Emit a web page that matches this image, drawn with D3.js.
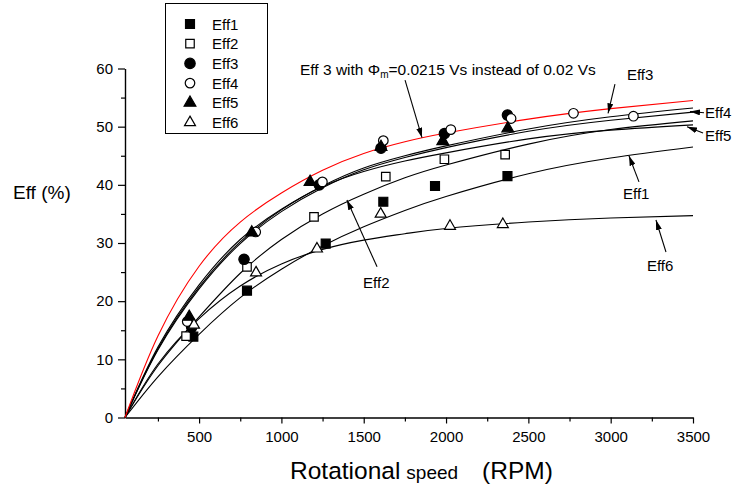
<!DOCTYPE html>
<html>
<head>
<meta charset="utf-8">
<script src="https://cdn.jsdelivr.net/npm/d3@7/dist/d3.min.js"></script>
<style>
  body { margin: 0; background: #fff; }
  text { font-family: "Liberation Sans", Arial, sans-serif; fill: #000; }
</style>
</head>
<body>
<svg id="chart"></svg>
<script>
// data
const rpmGrid = [50, 250, 500, 750, 1000, 1250, 1500, 1750, 2000, 2500, 3000, 3500];

const curveEff1 = [0, 7.0, 14.3, 20.6, 25.5, 29.5, 32.8, 35.6, 38.0, 41.9, 44.6, 46.5];
const curveEff2 = [0, 8.9, 17.3, 24.8, 30.6, 35.0, 38.4, 41.2, 43.4, 47.0, 49.5, 51.0];
const curveEff3 = [0, 11.6, 22.1, 29.9, 35.4, 39.5, 42.6, 44.7, 46.4, 49.2, 51.1, 52.5];
const curveEff4 = [0, 11.8, 22.4, 30.2, 35.7, 39.8, 42.9, 45.0, 46.7, 49.6, 51.7, 53.2];
const curveEff5 = [0, 12.1, 22.8, 30.6, 35.8, 39.7, 42.3, 44.1, 45.5, 47.9, 49.4, 50.3];
const curveEff6 = [0, 9.2, 17.0, 22.6, 26.4, 28.9, 30.5, 31.6, 32.5, 33.6, 34.3, 34.7];
const curveEff3Phi = [0, 14.0, 26.0, 33.6, 38.6, 42.5, 45.4, 47.4, 48.9, 51.3, 53.1, 54.5];

// measured points [rpm, eff]
const pointsEff1 = [[465, 13.9], [791, 21.8], [1269, 29.9], [1619, 37.1], [1933, 39.8], [2373, 41.5]];
const pointsEff2 = [[421, 14.0], [791, 25.9], [1198, 34.5], [1634, 41.4], [1990, 44.4], [2359, 45.2]];
const pointsEff3 = [[455, 15.5], [773, 27.2], [1230, 40.0], [1605, 46.3], [1990, 48.8], [2373, 52.0]];
const pointsEff4 = [[428, 16.5], [844, 31.9], [1249, 40.5], [1619, 47.6], [2029, 49.5], [2395, 51.4], [2774, 52.3], [3138, 51.8]];
const pointsEff5 = [[440, 17.3], [820, 31.8], [1174, 40.5], [1605, 46.5], [1980, 47.5], [2375, 49.7]];
const pointsEff6 = [[469, 15.9], [846, 24.9], [1216, 29.0], [1603, 35.0], [2024, 32.9], [2345, 33.2]];

const seriesNames = ["Eff1", "Eff2", "Eff3", "Eff4", "Eff5", "Eff6"];
const xTicks = [500, 1000, 1500, 2000, 2500, 3000, 3500];
const xMinorTicks = [250, 750, 1250, 1750, 2250, 2750, 3250];
const yTicks = [0, 10, 20, 30, 40, 50, 60];
const yMinorTicks = [5, 15, 25, 35, 45, 55];

const svg = d3.select("#chart")
    .attr("width", 740)
    .attr("height", 490);

const margins = { top: 68.5, right: 47, bottom: 72.5, left: 125 };
const graphWidth = 740 - margins.left - margins.right;
const graphHeight = 490 - margins.top - margins.bottom;

const graphGroup = svg.append("g")
    .attr("transform", `translate(${margins.left}, ${margins.top})`);

const xScale = d3.scaleLinear().domain([50, 3500]).range([0, graphWidth]);
const yScale = d3.scaleLinear().domain([0, 60]).range([graphHeight, 0]);

// arrowhead
svg.append("defs").append("marker")
    .attr("id", "arrow")
    .attr("markerUnits", "userSpaceOnUse")
    .attr("viewBox", "0 0 10 6")
    .attr("markerWidth", 10)
    .attr("markerHeight", 6)
    .attr("refX", 10)
    .attr("refY", 3)
    .attr("orient", "auto")
    .append("path")
    .attr("d", "M0,0 L10,3 L0,6 Z")
    .attr("fill", "#000");

// axes
const xAxisGroup = graphGroup.append("g").attr("transform", `translate(0, ${graphHeight})`);
xAxisGroup.append("g").call(d3.axisBottom(xScale).tickValues(xMinorTicks).tickSize(4).tickFormat(""))
    .call(g => g.select(".domain").remove());
xAxisGroup.append("g").call(d3.axisBottom(xScale).tickValues(xTicks).tickSize(6).tickSizeOuter(0)
    .tickPadding(8).tickFormat(d3.format("d")));

const yAxisGroup = graphGroup.append("g");
yAxisGroup.append("g").call(d3.axisLeft(yScale).tickValues(yMinorTicks).tickSize(4).tickFormat(""))
    .call(g => g.select(".domain").remove());
yAxisGroup.append("g").call(d3.axisLeft(yScale).tickValues(yTicks).tickSize(7).tickSizeOuter(0)
    .tickPadding(5).tickFormat(d3.format("d")));

graphGroup.selectAll(".domain").attr("stroke-width", 1.4);
graphGroup.selectAll(".tick line").attr("stroke-width", 1.2);
graphGroup.selectAll(".tick text")
    .style("font-family", '"Liberation Sans", Arial, sans-serif')
    .style("font-size", "15px");

// fitted curves
const line = d3.line()
    .x(d => xScale(d[0]))
    .y(d => yScale(d[1]))
    .curve(d3.curveNatural);

const curves = [curveEff1, curveEff2, curveEff6, curveEff5, curveEff3, curveEff4];
curves.forEach(c => {
    graphGroup.append("path")
        .datum(rpmGrid.map((r, i) => [r, c[i]]))
        .attr("d", line)
        .attr("fill", "none")
        .attr("stroke", "#000")
        .attr("stroke-width", 1.1);
});
graphGroup.append("path")
    .datum(rpmGrid.map((r, i) => [r, curveEff3Phi[i]]))
    .attr("d", line)
    .attr("fill", "none")
    .attr("stroke", "#ff0000")
    .attr("stroke-width", 1.1);

// markers
const symbolStyles = [
    { type: d3.symbolSquare, size: 80, filled: true },
    { type: d3.symbolSquare, size: 72, filled: false },
    { type: d3.symbolCircle, size: 85, filled: true },
    { type: d3.symbolCircle, size: 72, filled: false },
    { type: d3.symbolTriangle, size: 60, filled: true },
    { type: d3.symbolTriangle, size: 52, filled: false }
];
const pointSets = [pointsEff1, pointsEff2, pointsEff3, pointsEff4, pointsEff5, pointsEff6];

pointSets.forEach((pts, i) => {
    const st = symbolStyles[i];
    graphGroup.selectAll(null)
        .data(pts)
        .enter()
        .append("path")
        .attr("d", d3.symbol().type(st.type).size(st.size))
        .attr("transform", d => `translate(${xScale(d[0])}, ${yScale(d[1])})`)
        .attr("fill", st.filled ? "#000" : "#fff")
        .attr("stroke", "#000")
        .attr("stroke-width", 1.2);
});

// legend
const legend = svg.append("g");
legend.append("rect")
    .attr("x", 165.5).attr("y", 3.5)
    .attr("width", 102).attr("height", 130)
    .attr("fill", "#fff").attr("stroke", "#000").attr("stroke-width", 1);

seriesNames.forEach((name, i) => {
    const st = symbolStyles[i];
    const cy = 24 + i * 19.7;
    legend.append("path")
        .attr("d", d3.symbol().type(st.type).size(st.size))
        .attr("transform", `translate(190, ${cy})`)
        .attr("fill", st.filled ? "#000" : "#fff")
        .attr("stroke", "#000")
        .attr("stroke-width", 1.2);
    legend.append("text")
        .attr("x", 212)
        .attr("y", cy + 5.5)
        .style("font-size", "15px")
        .text(name);
});

// annotations: label [rpm, eff], arrow tail, arrow tip
const labelNotes = [
    { text: "Eff3", at: [3099, 58.0], from: [3026, 57.3], to: [2984, 52.3] },
    { text: "Eff4", at: [3573, 51.5], from: [3567, 52.4], to: [3482, 52.6] },
    { text: "Eff5", at: [3573, 47.5], from: [3561, 48.9], to: [3464, 50.0] },
    { text: "Eff1", at: [3075, 37.6], from: [3172, 40.5], to: [3111, 45.0] },
    { text: "Eff6", at: [3220, 25.2], from: [3336, 28.45], to: [3275, 33.95] },
    { text: "Eff2", at: [1496, 22.3], from: [1581, 25.9], to: [1398, 37.4] }
];

labelNotes.forEach(n => {
    graphGroup.append("text")
        .attr("x", xScale(n.at[0]))
        .attr("y", yScale(n.at[1]))
        .style("font-size", "15px")
        .text(n.text);
    graphGroup.append("line")
        .attr("x1", xScale(n.from[0])).attr("y1", yScale(n.from[1]))
        .attr("x2", xScale(n.to[0])).attr("y2", yScale(n.to[1]))
        .attr("stroke", "#000").attr("stroke-width", 1.1)
        .attr("marker-end", "url(#arrow)");
});

// the Phi_m note
const phiText = graphGroup.append("text")
    .attr("x", xScale(1113))
    .attr("y", yScale(58.9))
    .style("font-size", "15.5px");
phiText.append("tspan").text("Eff 3 with ");
phiText.append("tspan").text("Φ");
phiText.append("tspan").attr("dy", 3).style("font-size", "10px").text("m");
phiText.append("tspan").attr("dy", -3).text("=0.0215 Vs instead of 0.02 Vs");

graphGroup.append("line")
    .attr("x1", xScale(1751)).attr("y1", yScale(58.0))
    .attr("x2", xScale(1854)).attr("y2", yScale(48.1))
    .attr("stroke", "#000").attr("stroke-width", 1.1)
    .attr("marker-end", "url(#arrow)");

// axis titles
svg.append("text")
    .attr("x", 13)
    .attr("y", 199)
    .style("font-size", "19px")
    .text("Eff (%)");

const xTitle = svg.append("text")
    .attr("x", 290)
    .attr("y", 479);
xTitle.append("tspan").style("font-size", "24.5px").text("Rotational");
xTitle.append("tspan").attr("dx", 6).style("font-size", "19px").text("speed");
xTitle.append("tspan").attr("dx", 24).style("font-size", "24.5px").text("(RPM)");
</script>
</body>
</html>
